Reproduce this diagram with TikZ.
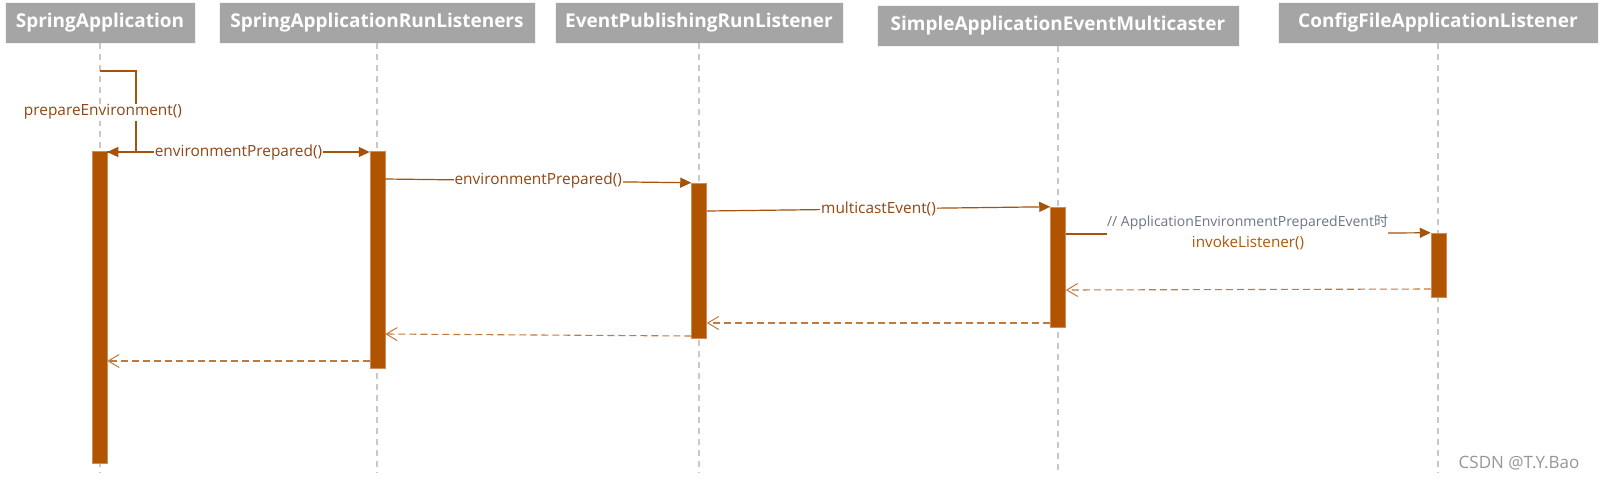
\documentclass[tikz,border=0pt]{standalone}
\usepackage{fontspec}
\setmainfont{Open Sans}
\newfontfamily\cjkfont{Noto Sans CJK SC}
\usetikzlibrary{arrows.meta,calc}
\definecolor{headgray}{RGB}{165,165,165}
\definecolor{barbrown}{RGB}{176,84,0}
\definecolor{baredge}{RGB}{205,140,90}
\definecolor{msgline}{RGB}{165,82,10}
\definecolor{msgtext}{RGB}{145,70,20}
\definecolor{invtext}{RGB}{176,88,0}
\definecolor{retline}{RGB}{192,122,64}
\definecolor{cmtgray}{RGB}{110,118,132}
\definecolor{lifegray}{RGB}{200,200,200}
\definecolor{wmgray}{RGB}{150,150,150}
\tikzset{
  x=1pt, y=1pt,
  headbox/.style={fill=headgray, draw=white!85!headgray, line width=0.6pt, text=white,
    font=\fontsize{19}{22}\selectfont\bfseries, inner sep=0pt, minimum height=41pt},
  actbar/.style={fill=barbrown, draw=baredge, line width=0.5pt, minimum width=15pt, inner sep=0pt},
  lifeline/.style={draw=lifegray, line width=1.1pt, dash pattern=on 6pt off 5pt},
  msg/.style={draw=msgline, line width=1.2pt, -{Triangle[length=11pt,width=10pt]}},
  selfline/.style={draw=msgline, line width=1.2pt},
  retmsg/.style={draw=retline, line width=1.1pt, dash pattern=on 7pt off 4pt,
    -{Straight Barb[length=11pt,width=13pt,line width=1pt]}},
  msglabel/.style={fill=white, text=msgtext, font=\fontsize{15.4}{18}\selectfont, inner sep=1pt},
  cmtlabel/.style={text=cmtgray, font=\fontsize{14}{16}\selectfont, inner sep=1pt},
  invlabel/.style={text=invtext, font=\fontsize{15.2}{18}\selectfont, inner sep=1pt},
  wmlabel/.style={text=wmgray, font=\fontsize{17}{20}\selectfont, inner sep=0pt}
}
\begin{document}
\begin{tikzpicture}
\useasboundingbox[fill=white] (0,0) rectangle (1603,-480);
% headers
\node[headbox, minimum width=190pt] (h1) at (100,-22.5) {SpringApplication};
\node[headbox, minimum width=316pt] (h2) at (377,-22.5) {SpringApplicationRunListeners};
\node[headbox, minimum width=288pt] (h3) at (699,-22.5) {EventPublishingRunListener};
\node[headbox, minimum width=362pt] (h4) at (1058,-25.5) {SimpleApplicationEventMulticaster};
\node[headbox, minimum width=320pt] (h5) at (1438,-22.5) {ConfigFileApplicationListener};
% lifeline ends
\coordinate (e1) at (h1.south |- 0,-473);
\coordinate (e2) at (h2.south |- 0,-473);
\coordinate (e3) at (h3.south |- 0,-473);
\coordinate (e4) at (h4.south |- 0,-473);
\coordinate (e5) at (h5.south |- 0,-473);
\foreach \i in {1,...,5} {\draw[lifeline] (h\i.south) -- (e\i);}
% activation bars
\node[actbar, minimum height=312pt] (b1) at (99.5,-307) {};
\node[actbar, minimum height=217pt] (b2) at (377.5,-259.5) {};
\node[actbar, minimum height=155pt] (b3) at (699,-260.5) {};
\node[actbar, minimum height=120pt] (b4) at (1058,-267) {};
\node[actbar, minimum height=64pt] (b5) at (1438.5,-265) {};
% self call prepareEnvironment()
\coordinate (s0) at (h1.south |- 0,-71);
\coordinate (s1) at (136,-71);
\coordinate (s2) at (136,-152);
\draw[selfline] (s0) -- (s1) -- (s2);
\draw[msg] (s2) -- (b1.east |- s2);
\node[msglabel] (lpe) at (103,-112) {prepareEnvironment()};
% messages
\draw[msg] (b1.east |- 0,-152) -- node[msglabel] (l1) {environmentPrepared()} (b2.west |- 0,-152);
\draw[msg] (b2.east |- 0,-179) -- node[msglabel] (l2) {environmentPrepared()} (b3.north west);
\draw[msg] (b3.east |- 0,-211) -- node[msglabel] (l3) {multicastEvent()} (b4.north west);
\coordinate (m4a) at (b4.east |- 0,-234);
\coordinate (m4b) at (1107,-234);
\coordinate (m4c) at (1388,-233);
\draw[selfline] (m4a) -- (m4b);
\draw[msg] (m4c) -- (b5.north west);
\node[cmtlabel] (cmt) at (1247.5,-222) {// ApplicationEnvironmentPreparedEvent{\cjkfont 时}};
\node[invlabel] (inv) at (1248,-243) {invokeListener()};
% returns
\draw[retmsg] (b5.west |- 0,-289) -- (b4.east |- 0,-290);
\draw[retmsg] (b4.west |- 0,-323) -- (b3.east |- 0,-323);
\draw[retmsg] (b3.west |- 0,-336) -- (b2.east |- 0,-334);
\draw[retmsg] (b2.west |- 0,-361) -- (b1.east |- 0,-361);
% watermark
\node[wmlabel] (wm) at (1519,-463) {CSDN @T.Y.Bao};
\end{tikzpicture}
\end{document}
